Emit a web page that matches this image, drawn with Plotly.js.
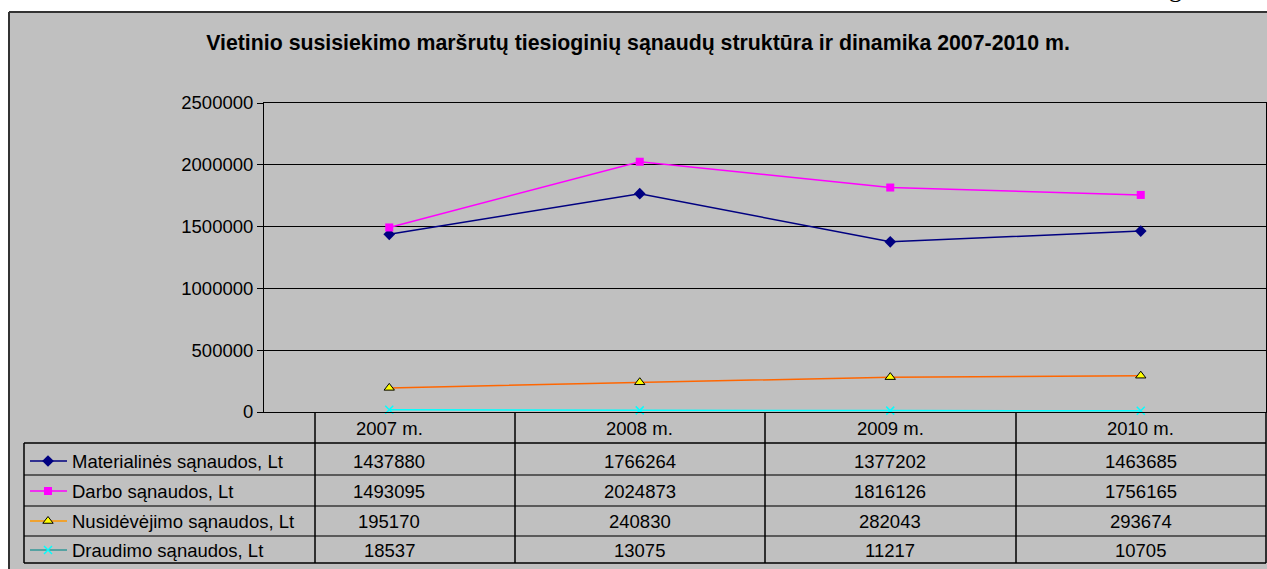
<!DOCTYPE html>
<html><head><meta charset="utf-8">
<script src="https://cdn.plot.ly/plotly-3.0.1.min.js"></script>
<style>html,body{margin:0;padding:0;background:#fff;} #chart{width:1267px;height:569px;}</style>
</head><body><div id="chart"></div>
<script>
// ---- data ----
const categories = ['2007 m.', '2008 m.', '2009 m.', '2010 m.'];
const seriesNames = ['Materialinės sąnaudos, Lt', 'Darbo sąnaudos, Lt', 'Nusidėvėjimo sąnaudos, Lt', 'Draudimo sąnaudos, Lt'];
const materialines = [1437880, 1766264, 1377202, 1463685];
const darbo = [1493095, 2024873, 1816126, 1756165];
const nusidevejimo = [195170, 240830, 282043, 293674];
const draudimo = [18537, 13075, 11217, 10705];
const yTickValues = [0, 500000, 1000000, 1500000, 2000000, 2500000];
const titleText = 'Vietinio susisiekimo maršrutų tiesioginių sąnaudų struktūra ir dinamika 2007-2010 m.';

// ---- layout constants (pixels) ----
const W = 1267, H = 569;
const PL = 264, PR = 1266, PT = 103, PB = 412;
const FONT = 'Liberation Sans, Arial, sans-serif';
const FS = 18.5;
const px = x => x / W;
const py = y => 1 - y / H;

const series = [materialines, darbo, nusidevejimo, draudimo];
const styles = [
  {line: '#000080', key: '#000080', marker: {symbol: 'diamond', size: 9, color: '#000080'}},
  {line: '#ff00ff', key: '#ff00ff', marker: {symbol: 'square', size: 8, color: '#ff00ff'}},
  {line: '#ff6600', key: '#ff9900', marker: {symbol: 'triangle-up', size: 9, color: '#ffff00', line: {color: '#000000', width: 1}}},
  {line: '#00ffff', key: '#339999', marker: {symbol: 'x-thin', size: 8, color: '#00ffff', line: {color: '#00ffff', width: 1.5}}}
];

const traces = series.map((vals, i) => ({
  type: 'scatter', mode: 'lines+markers',
  x: categories, y: vals, name: seriesNames[i],
  xaxis: 'x', yaxis: 'y',
  line: {color: styles[i].line, width: 1.5},
  marker: styles[i].marker,
  cliponaxis: false, showlegend: false, hoverinfo: 'skip'
}));

// table geometry
const colEdges = [315, 515, 765, 1016, 1266];
const headerY = 428;
const rowCenters = [461, 491, 521, 550];
const hLines = [443, 475, 506, 536, 563];
const keyX0 = 30, keyX1 = 67, keyM = 48, labelX = 70;

// legend keys in table (pixel axes x2/y2)
series.forEach((vals, i) => {
  traces.push({
    type: 'scatter', mode: 'lines', x: [keyX0, keyX1], y: [rowCenters[i], rowCenters[i]],
    xaxis: 'x2', yaxis: 'y2', line: {color: styles[i].key, width: 1.5},
    showlegend: false, hoverinfo: 'skip'
  });
  traces.push({
    type: 'scatter', mode: 'markers', x: [keyM], y: [rowCenters[i]],
    xaxis: 'x2', yaxis: 'y2', marker: styles[i].marker,
    showlegend: false, hoverinfo: 'skip'
  });
});

const shapes = [];
// chart area background + border
shapes.push({type: 'rect', xref: 'paper', yref: 'paper', x0: px(9), x1: px(W + 5), y0: py(12), y1: py(H + 5),
  fillcolor: '#c0c0c0', line: {width: 0}, layer: 'below'});
shapes.push({type: 'line', xref: 'paper', yref: 'paper', x0: px(9), x1: px(W + 5), y0: py(12), y1: py(12), line: {color: '#333333', width: 2}});
shapes.push({type: 'line', xref: 'paper', yref: 'paper', x0: px(9), x1: px(9), y0: py(12), y1: py(H + 5), line: {color: '#333333', width: 2}});
// table lines
hLines.forEach((y, k) => {
  const dark = (k === 0 || k === hLines.length - 1);
  shapes.push({type: 'line', xref: 'paper', yref: 'paper', x0: px(24), x1: px(PR), y0: py(y), y1: py(y),
    line: {color: dark ? '#000000' : '#5a5a5a', width: dark ? 1.5 : 2}});
});
shapes.push({type: 'line', xref: 'paper', yref: 'paper', x0: px(24), x1: px(24), y0: py(443), y1: py(563), line: {color: '#000000', width: 1.5}});
colEdges.forEach(x => {
  shapes.push({type: 'line', xref: 'paper', yref: 'paper', x0: px(x), x1: px(x), y0: py(PB), y1: py(563), line: {color: '#000000', width: 1.5}});
});

const annotations = [];
categories.forEach((c, j) => {
  annotations.push({xref: 'x', yref: 'paper', x: c, y: py(headerY), yanchor: 'middle', xanchor: 'center',
    text: c, showarrow: false, font: {family: FONT, size: FS, color: '#000'}});
  series.forEach((vals, i) => {
    annotations.push({xref: 'x', yref: 'paper', x: c, y: py(rowCenters[i]), yanchor: 'middle', xanchor: 'center',
      text: String(vals[j]), showarrow: false, font: {family: FONT, size: FS, color: '#000'}});
  });
});
seriesNames.forEach((n, i) => {
  annotations.push({xref: 'paper', yref: 'paper', x: px(labelX), y: py(rowCenters[i]), xanchor: 'left', yanchor: 'middle',
    text: n, showarrow: false, font: {family: FONT, size: FS, color: '#000'}});
});
// cropped page glyph at top right
annotations.push({xref: 'paper', yref: 'paper', x: px(1175), y: py(4.5), xanchor: 'center', yanchor: 'bottom',
  text: 'g', showarrow: false, font: {family: 'Liberation Serif, Times New Roman, serif', size: 26, color: '#000'}});

const layout = {
  width: W, height: H,
  margin: {l: 0, r: 0, t: 0, b: 0, pad: 0},
  paper_bgcolor: '#ffffff', plot_bgcolor: 'rgba(0,0,0,0)',
  hovermode: false,
  title: {text: '<b>' + titleText + '</b>', font: {family: FONT, size: 21.3, color: '#000'},
    x: px(638), xanchor: 'center', y: py(43), yanchor: 'middle', xref: 'paper', yref: 'paper'},
  xaxis: {domain: [px(PL), px(PR)], anchor: 'y', type: 'category', range: [-0.5, 3.5],
    showticklabels: false, ticks: '', showgrid: false, showline: true, linecolor: '#000', linewidth: 1, mirror: true, zeroline: false},
  yaxis: {domain: [py(PB), py(PT)], anchor: 'x', range: [0, 2500000], tickvals: yTickValues,
    ticktext: yTickValues.map(String), ticks: 'outside', ticklen: 6, tickcolor: '#000', tickwidth: 1,
    showgrid: true, gridcolor: '#000', gridwidth: 1, showline: true, linecolor: '#000', linewidth: 1, mirror: true,
    zeroline: false, tickfont: {family: FONT, size: FS, color: '#000'}},
  xaxis2: {domain: [0, 1], anchor: 'y2', range: [0, W], visible: false, fixedrange: true},
  yaxis2: {domain: [0, 1], anchor: 'x2', range: [H, 0], visible: false, fixedrange: true},
  shapes: shapes,
  annotations: annotations
};

Plotly.newPlot('chart', traces, layout, {displayModeBar: false, staticPlot: true});
</script>
</body></html>
